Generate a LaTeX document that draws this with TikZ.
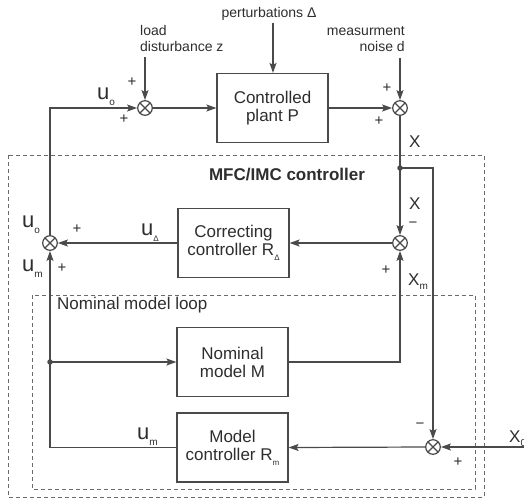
\documentclass[tikz,border=0pt]{standalone}
\usepackage{fontspec}
\setmainfont{Liberation Sans}
\usetikzlibrary{arrows.meta}
\definecolor{ln}{HTML}{4A4A4A}
\definecolor{tx}{HTML}{2E2E2E}
\definecolor{fr}{HTML}{6A6A6A}
\newcommand{\dsub}[1]{\raisebox{-0.28em}{\fontsize{10}{10}\selectfont #1}}
\newcommand{\ssub}[1]{\raisebox{-0.3em}{\fontsize{8}{8}\selectfont #1}}
\begin{document}
\begin{tikzpicture}[x=1pt,y=-1pt,
 every node/.style={text=tx},
 wire/.style={draw=ln,line width=1.2pt},
 arr/.style={wire,-{Stealth[length=10pt,width=7pt,inset=2pt]}},
 blk/.style={draw=ln,line width=1.2pt,minimum width=111pt,minimum height=69pt,align=center,font=\fontsize{17}{18}\selectfont,inner sep=0pt},
 sumnode/.style={circle,draw=ln,line width=1.2pt,minimum size=14.6pt,inner sep=0pt,
   path picture={\draw[ln,line width=1.1pt] (path picture bounding box.north west)--(path picture bounding box.south east) (path picture bounding box.north east)--(path picture bounding box.south west);}},
 dotn/.style={circle,fill=ln,minimum size=5.5pt,inner sep=0pt},
 sml/.style={font=\fontsize{14}{16}\selectfont,inner sep=0pt},
 sgn/.style={font=\fontsize{15}{15}\selectfont,inner sep=0pt},
 big/.style={font=\fontsize{22}{22}\selectfont,inner sep=0pt,anchor=base west},
 xl/.style={font=\fontsize{17}{17}\selectfont,inner sep=0pt,anchor=base west},
 frame/.style={draw=fr,line width=0.9pt,dash pattern=on 4pt off 3pt}
]
\clip (0,0) rectangle (524,499);
\fill[white] (0,0) rectangle (524,499);

% frames
\draw[frame] (8,155) rectangle (484,497);
\draw[frame] (32,295) rectangle (475,489);
\node[font=\bfseries\fontsize{17}{17}\selectfont,inner sep=0pt] (mfc) at (287,175) {MFC/IMC controller};
\node[font=\fontsize{17}{17}\selectfont,inner sep=0pt,anchor=west] (nml) at (57,305) {Nominal model loop};

% blocks
\node[blk] (plant) at (272.5,108) {Controlled\\plant P};
\node[blk] (corr) at (233.5,243) {Correcting\\controller R\ssub{Δ}};
\node[blk] (nom) at (232.5,362) {Nominal\\model M};
\node[blk] (mc) at (232.5,447.5) {Model\\controller R\ssub{m}};

% summing junctions
\node[sumnode] (s1) at (145,108) {};
\node[sumnode] (s2) at (400,108) {};
\node[sumnode] (s4) at (400,243) {};
\node[sumnode] (s5) at (50,243) {};
\node[sumnode] (s3) at (433,447) {};

\node[dotn] (d1) at (400,168) {};
\node[dotn] (d2) at (50,362) {};

% external inputs
\node[sml] (pert) at (269,14) {perturbations Δ};
\node[sml,align=left,anchor=north west] (load) at (140,25) {load\\disturbance z};
\node[sml,align=right,anchor=north east] (noise) at (405,26) {measurment\\noise d};
\coordinate (pin) at (273,23);
\coordinate (lin) at (145,57);
\coordinate (nin) at (400,58);
\coordinate (xin) at (530,447);

\draw[arr] (pin) -- (pin |- plant.north);
\draw[arr] (lin) -- (s1.north);
\draw[arr] (nin) -- (s2.north);

% main loop
\draw[arr] (s1.east) -- (plant.west);
\draw[arr] (plant.east) -- (s2.west);
\draw[wire] (s2.south) -- (d1.center);
\draw[arr] (d1.center) -- (s4.north);
\draw[arr] (d1.center) -| (s3.north);
\draw[arr] (s4.west) -- (corr.east);
\draw[arr] (corr.west) -- (s5.east);
\draw[arr] (s5.north) |- (s1.west);
\draw[arr] (mc.west) -| (s5.south);
\draw[arr] (d2.center) -- (nom.west);
\draw[arr] (nom.east) -| (s4.south);
\draw[arr] (xin) -- (s3.east);
\draw[arr] (s3.west) -- (mc.east);

% signal labels
\node[big] (luo1) at (97,99) {u\dsub{o}};
\node[xl] (lx1) at (409,147) {X};
\node[xl] (lx2) at (409,209) {X};
\node[xl] (lxm) at (408,285) {X\dsub{m}};
\node[big] (lud) at (141,235) {u\ssub{Δ}};
\node[big] (luo2) at (22,227) {u\dsub{o}};
\node[big] (lum1) at (22,271) {u\dsub{m}};
\node[big] (lum2) at (137,439) {u\dsub{m}};
\node[xl] (lx0) at (509,442) {X\dsub{0}};

% signs
\node[sgn] at (132,82) {+};
\node[sgn] at (124,119) {+};
\node[sgn] at (387,88) {+};
\node[sgn] at (379,121) {+};
\node[sgn] at (413,225) {−};
\node[sgn] at (386,270) {+};
\node[sgn] at (77,229) {+};
\node[sgn] at (62,268) {+};
\node[sgn] at (420,426) {−};
\node[sgn] at (458,462) {+};
\end{tikzpicture}
\end{document}
